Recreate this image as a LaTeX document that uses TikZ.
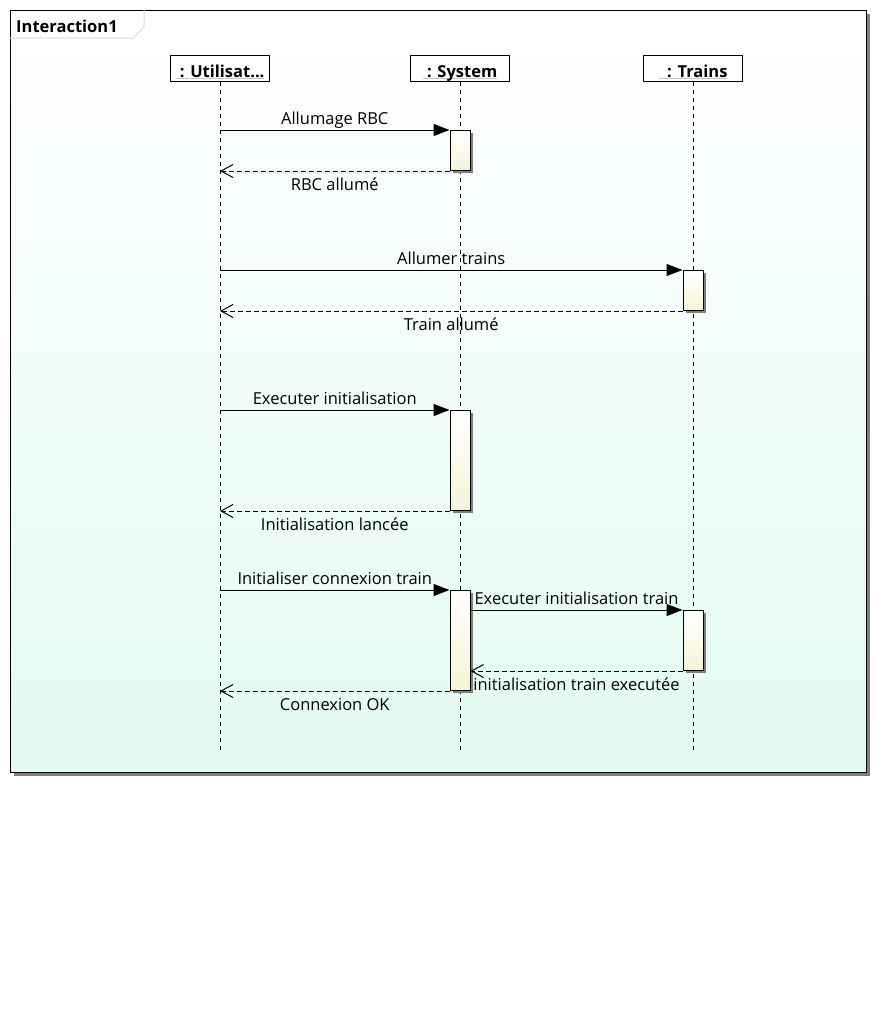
\documentclass[tikz,border=0pt]{standalone}
\usepackage{fontspec}
\setmainfont{Open Sans}
\usetikzlibrary{arrows.meta,shadows}
\definecolor{mint}{HTML}{E3FBF1}
\definecolor{actbot}{HTML}{F6F4D6}
\definecolor{shgray}{HTML}{7F7F7F}
\newlength\myulw
\newcommand\grayul[1]{\settowidth\myulw{#1}\rlap{\textcolor{black!22}{\rule[-1.8pt]{\myulw}{1pt}}}#1}
\begin{document}
\begin{tikzpicture}[x=1pt,y=-1pt,
  lbl/.style={font=\fontsize{16.5}{19}\selectfont},
  framebox/.style={draw=black, line width=1pt, top color=white, bottom color=mint,
    drop shadow={shadow xshift=3pt, shadow yshift=-3pt, fill=shgray, opacity=1}},
  head/.style={draw=black, line width=1pt, fill=white, minimum width=99, minimum height=26,
    inner sep=0pt, text height=22pt, text depth=4pt, font=\fontsize{16.5}{19}\selectfont\bfseries},
  life/.style={line width=1pt, dash pattern=on 4pt off 4pt},
  act/.style={draw=black, line width=1pt, top color=white, bottom color=actbot,
    minimum width=20, minimum height=#1, inner sep=0pt, anchor=north,
    drop shadow={shadow xshift=2.5pt, shadow yshift=-2.5pt, fill=shgray, opacity=1}},
  sync/.style={line width=1pt, -{Triangle[length=16pt,width=12pt]}},
  reply/.style={line width=1pt, dash pattern=on 5pt off 3pt, -{Straight Barb[length=12pt,width=13pt,line width=1pt]}},
  up/.style={midway, anchor=base, yshift=6pt, inner sep=0pt, lbl},
  down/.style={midway, anchor=base, yshift=-19pt, inner sep=0pt, lbl}
]
\useasboundingbox (0,0) rectangle (877,1020);
\fill[white] (0,0) rectangle (877,1020);

% frame
\node[framebox, minimum width=856, minimum height=762, anchor=north west, inner sep=0pt] (frame) at (10,10) {};
\draw[black!15, line width=1pt] (10,38) -- (133,38) -- (144,27) -- (144,10);
\node[anchor=base west, inner sep=0pt, font=\fontsize{16.5}{19}\selectfont\bfseries] (title) at (16,32) {Interaction1};

% lifeline heads
\node[head] (u) at (220,68) {\grayul{\ : Utilisat...}};
\node[head] (s) at (460,68) {\grayul{\ : System}};
\node[head] (t) at (693,68) {\grayul{\ \ : Trains}};
\coordinate (uE) at (220,752);
\coordinate (sE) at (460,752);
\coordinate (tE) at (693,752);
\draw[life] (u) -- (uE);
\draw[life] (s) -- (sE);
\draw[life] (t) -- (tE);

% activations
\node[act=40] (a1) at (460,130) {};
\node[act=40] (a2) at (693,270) {};
\node[act=100] (a3) at (460,410) {};
\node[act=100] (a4) at (460,590) {};
\node[act=60] (a5) at (693,610) {};

% messages
\draw[sync] (u |- a1.north) -- (a1.north west) node[up] {Allumage RBC};
\draw[reply] (a1.south west) -- (u |- a1.south) node[down] {RBC allumé};
\draw[sync] (u |- a2.north) -- (a2.north west) node[up] {Allumer trains};
\draw[reply] (a2.south west) -- (u |- a2.south) node[down] {Train allumé};
\draw[sync] (u |- a3.north) -- (a3.north west) node[up] {Executer initialisation};
\draw[reply] (a3.south west) -- (u |- a3.south) node[down] {Initialisation lancée};
\draw[sync] (u |- a4.north) -- (a4.north west) node[up] {Initialiser connexion train};
\draw[sync] (a4.east |- a5.north) -- (a5.north west) node[up] {Executer initialisation train};
\draw[reply] (a5.south west) -- (a4.east |- a5.south) node[down] {initialisation train executée};
\draw[reply] (a4.south west) -- (u |- a4.south) node[down] {Connexion OK};
\end{tikzpicture}
\end{document}
